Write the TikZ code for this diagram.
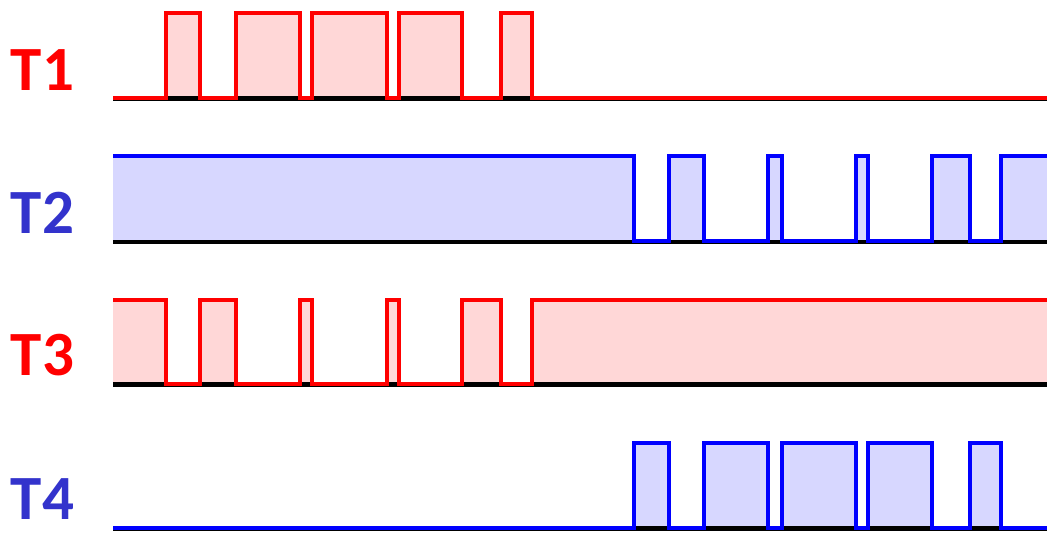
\documentclass[tikz,border=0pt]{standalone}
\usepackage{fontspec}
\setmainfont{Carlito}
\definecolor{sigred}{RGB}{255,0,0}
\definecolor{sigblue}{RGB}{0,0,255}
\definecolor{fillred}{RGB}{255,215,215}
\definecolor{fillblue}{RGB}{215,215,255}
\definecolor{labred}{RGB}{255,0,0}
\definecolor{labblue}{RGB}{51,51,204}
\tikzset{
  wave/.style={line width=4pt, line join=miter, line cap=butt},
  redwave/.style={wave, draw=sigred},
  bluewave/.style={wave, draw=sigblue},
  basebar/.style={line width=4.5pt, draw=black},
  lab/.style={anchor=base, inner sep=0pt, font=\fontsize{63}{63}\selectfont\bfseries}
}
\begin{document}
\begin{tikzpicture}[x=1pt,y=-1pt]
\useasboundingbox (0,0) rectangle (1047,533);
% ---------- T1 ----------
\fill[fillred] (113,98)--(166,98)--(166,13)--(200,13)--(200,98)--(236,98)--(236,13)--(300,13)--(300,98)--(312,98)--(312,13)--(387,13)--(387,98)--(399,98)--(399,13)--(462,13)--(462,98)--(501,98)--(501,13)--(532,13)--(532,98)--cycle;
\draw[basebar] (113,98.5)--(1047,98.5);
\draw[redwave] (113,98)--(166,98)--(166,13)--(200,13)--(200,98)--(236,98)--(236,13)--(300,13)--(300,98)--(312,98)--(312,13)--(387,13)--(387,98)--(399,98)--(399,13)--(462,13)--(462,98)--(501,98)--(501,13)--(532,13)--(532,98)--(1047,98);
\node[lab, text=labred] (t1) at (42.5,90) {T1};
% ---------- T2 ----------
\fill[fillblue] (113,156)--(634,156)--(634,241)--(669,241)--(669,156)--(704,156)--(704,241)--(768,241)--(768,156)--(782,156)--(782,241)--(856,241)--(856,156)--(868,156)--(868,241)--(932,241)--(932,156)--(970,156)--(970,241)--(1001,241)--(1001,156)--(1047,156)--(1047,241)--(113,241)--cycle;
\draw[basebar] (113,242)--(1047,242);
\draw[bluewave] (113,156)--(634,156)--(634,241)--(669,241)--(669,156)--(704,156)--(704,241)--(768,241)--(768,156)--(782,156)--(782,241)--(856,241)--(856,156)--(868,156)--(868,241)--(932,241)--(932,156)--(970,156)--(970,241)--(1001,241)--(1001,156)--(1047,156);
\node[lab, text=labblue] (t2) at (42.5,233) {T2};
% ---------- T3 ----------
\fill[fillred] (113,300)--(166,300)--(166,384)--(200,384)--(200,300)--(236,300)--(236,384)--(300,384)--(300,300)--(312,300)--(312,384)--(387,384)--(387,300)--(399,300)--(399,384)--(462,384)--(462,300)--(501,300)--(501,384)--(532,384)--(532,300)--(1047,300)--(1047,384)--(113,384)--cycle;
\draw[basebar] (113,384.5)--(1047,384.5);
\draw[redwave] (113,300)--(166,300)--(166,384)--(200,384)--(200,300)--(236,300)--(236,384)--(300,384)--(300,300)--(312,300)--(312,384)--(387,384)--(387,300)--(399,300)--(399,384)--(462,384)--(462,300)--(501,300)--(501,384)--(532,384)--(532,300)--(1047,300);
\node[lab, text=labred] (t3) at (42.5,375) {T3};
% ---------- T4 ----------
\fill[fillblue] (113,528)--(634,528)--(634,443)--(669,443)--(669,528)--(704,528)--(704,443)--(768,443)--(768,528)--(782,528)--(782,443)--(856,443)--(856,528)--(868,528)--(868,443)--(932,443)--(932,528)--(970,528)--(970,443)--(1001,443)--(1001,528)--cycle;
\draw[basebar] (113,528.5)--(1047,528.5);
\draw[bluewave] (113,528)--(634,528)--(634,443)--(669,443)--(669,528)--(704,528)--(704,443)--(768,443)--(768,528)--(782,528)--(782,443)--(856,443)--(856,528)--(868,528)--(868,443)--(932,443)--(932,528)--(970,528)--(970,443)--(1001,443)--(1001,528)--(1047,528);
\node[lab, text=labblue] (t4) at (42.5,519) {T4};
\end{tikzpicture}
\end{document}
